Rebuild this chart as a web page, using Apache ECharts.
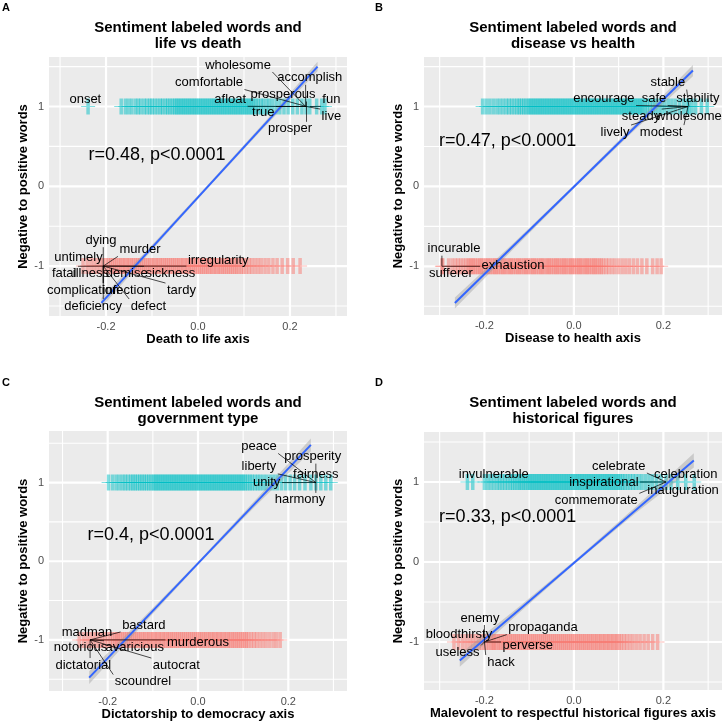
<!DOCTYPE html>
<html>
<head>
<meta charset="utf-8">
<script src="https://cdn.jsdelivr.net/npm/echarts@6/dist/echarts.min.js"></script>
<style>html,body{margin:0;padding:0;background:#fff}#c{width:722px;height:723px}</style>
</head>
<body>
<div id="c"></div>
<script>
// ---------------- DATA ----------------
const xMajor = [-0.2, 0, 0.2];
const xMinor = [-0.3, -0.1, 0.1, 0.3];
const yMajor = [-1, 0, 1];
const yMinor = [-1.5, -0.5, 0.5, 1.5];

// Panel A: life vs death
const A_pos = [-0.239,-0.167,-0.158,-0.151,-0.144,-0.136,-0.13,-0.124,-0.117,-0.111,-0.105,-0.1,
 -0.094,-0.088,-0.082,-0.077,-0.071,-0.066,-0.061,-0.056,-0.051,-0.047,-0.043,
 -0.039,-0.035,-0.031,-0.027,-0.023,-0.019,-0.015,-0.011,-0.007,-0.003,0.001,0.005,0.009,0.013,0.017,0.021,0.025,0.029,0.033,0.037,0.041,0.045,0.049,0.053,0.057,0.061,0.065,0.069,0.073,0.077,0.081,0.085,0.089,0.093,0.097,0.101,0.105,0.109,0.113,0.117,0.121,
 0.126,0.131,0.137,0.142,0.149,0.155,0.162,0.17,0.178,0.187,0.196,0.206,0.216,0.226,0.235,0.243,0.258,0.269,0.276];
const A_neg = [-0.25,-0.241,-0.233,-0.226,-0.219,-0.212,-0.206,-0.2,-0.195,
 -0.19,-0.186,-0.181,-0.177,-0.172,-0.168,-0.163,-0.159,-0.154,-0.15,-0.145,-0.141,-0.136,-0.132,-0.127,-0.123,-0.118,-0.114,-0.109,-0.105,-0.1,-0.096,-0.091,-0.087,-0.082,-0.078,-0.073,-0.069,-0.064,-0.06,-0.055,-0.051,-0.046,-0.042,-0.037,-0.033,-0.028,-0.024,-0.019,-0.015,-0.01,-0.006,-0.001,0.003,0.008,0.012,0.017,0.021,0.026,0.03,0.035,0.039,0.044,0.048,0.053,0.057,0.062,0.066,0.071,0.075,0.08,0.084,0.089,
 0.094,0.099,0.105,0.111,0.117,0.124,0.131,0.138,0.146,0.154,0.163,0.172,0.183,0.195,0.207,0.222];
const A_lineX = [-0.21, 0.26];
const A_lineY = [-1.46, 1.5];
const A_bandX = [-0.21, -0.0925, 0.025, 0.1425, 0.26];
const A_bandHi = [-1.40, -0.69, 0.04, 0.79, 1.56];
const A_bandLo = [-1.52, -0.75, 0.0, 0.73, 1.44];
const A_words = ['wholesome','accomplish','comfortable','prosperous','afloat','fun','true','live','prosper','onset',
 'dying','murder','untimely','irregularity','fatal','illness','demise','sickness','complication','infection','tardy','deficiency','defect'];
const A_wordX = [0.087,0.243,0.024,0.185,0.07,0.29,0.142,0.29,0.2,-0.245,
 -0.211,-0.126,-0.26,0.044,-0.291,-0.233,-0.155,-0.06,-0.25,-0.155,-0.036,-0.228,-0.108];
const A_wordY = [1.52,1.36,1.30,1.15,1.09,1.09,0.93,0.88,0.72,1.09,
 -0.675,-0.79,-0.89,-0.93,-1.09,-1.09,-1.09,-1.09,-1.3,-1.3,-1.3,-1.5,-1.5];
const A_anchorX = [0.234,0.234,0.236,0.236,0.236,0.243,0.236,0.236,0.236,-0.239,
 -0.206,-0.206,-0.206,-0.206,-0.206,-0.206,-0.206,-0.206,-0.206,-0.206,-0.206,-0.206,-0.206];
const A_anchorY = [1,1,1,1,1,1,1,1,1,1,-1,-1,-1,-1,-1,-1,-1,-1,-1,-1,-1,-1,-1];
const A_r = 'r=0.48, p<0.0001';
const A_rX = -0.089, A_rY = 0.39;

// Panel B: disease vs health
const B_pos = [-0.204,-0.196,-0.188,-0.18,-0.172,-0.165,-0.158,-0.151,-0.145,-0.139,-0.133,
 -0.127,-0.122,-0.117,-0.112,-0.107,-0.102,-0.098,-0.094,
 -0.09,-0.086,-0.082,-0.078,-0.074,-0.07,-0.066,-0.062,-0.058,-0.054,-0.05,-0.046,-0.042,-0.038,-0.034,-0.03,-0.026,-0.022,-0.018,-0.014,-0.01,-0.006,-0.002,0.002,0.006,0.01,0.014,0.018,0.022,0.026,0.03,0.034,0.038,0.042,0.046,0.05,0.054,0.058,0.062,0.066,0.07,0.074,0.078,0.082,0.086,0.09,0.094,0.098,0.102,0.106,0.11,0.114,0.118,0.122,0.126,0.13,0.134,0.138,0.142,0.146,0.15,0.154,
 0.159,0.164,0.17,0.176,0.182,0.189,0.196,0.203,0.211,0.219,0.227,0.236,0.245,0.253,0.257,0.264,0.272,0.285,0.298];
const B_neg = [-0.295,-0.293,-0.28,-0.272,-0.265,-0.259,-0.253,-0.247,-0.241,-0.236,-0.232,
 -0.228,-0.224,-0.22,-0.215,-0.211,-0.207,-0.203,-0.198,-0.194,-0.19,-0.186,-0.181,-0.177,-0.173,-0.169,-0.164,-0.16,-0.156,-0.152,-0.147,-0.143,-0.139,-0.135,-0.13,-0.126,-0.122,-0.118,-0.113,-0.109,-0.105,-0.101,-0.096,-0.092,-0.088,-0.084,-0.079,-0.075,-0.071,-0.067,-0.062,-0.058,-0.054,-0.05,-0.045,-0.041,-0.037,-0.033,-0.028,-0.024,-0.02,-0.016,-0.011,-0.007,-0.003,0.001,0.006,0.01,0.014,0.018,0.023,0.027,0.031,0.035,0.04,0.044,0.048,0.052,0.057,0.061,
 0.066,0.072,0.078,0.085,0.092,0.1,0.108,0.116,0.124,0.133,0.142,0.152,0.163,0.176,0.186,0.195];
const B_lineX = [-0.266, 0.266];
const B_lineY = [-1.46, 1.45];
const B_bandX = [-0.266, -0.133, 0, 0.133, 0.266];
const B_bandHi = [-1.39, -0.70, 0.015, 0.76, 1.52];
const B_bandLo = [-1.53, -0.77, -0.025, 0.69, 1.38];
const B_words = ['stable','encourage','safe','stability','steady','wholesome','lively','modest','incurable','sufferer','exhaustion'];
const B_wordX = [0.21,0.067,0.179,0.277,0.15,0.257,0.092,0.195,-0.268,-0.275,-0.136];
const B_wordY = [1.3,1.1,1.1,1.1,0.88,0.88,0.68,0.68,-0.78,-1.09,-0.99];
const B_anchorX = [0.257,0.255,0.255,0.255,0.255,0.255,0.255,0.255,-0.295,-0.295,-0.295];
const B_anchorY = [1,1,1,1,1,1,1,1,-1,-1,-1];
const B_r = 'r=0.47, p<0.0001';
const B_rX = -0.148, B_rY = 0.57;

// Panel C: government type
const C_pos = [-0.198,-0.189,-0.181,-0.174,-0.167,-0.161,-0.155,-0.149,-0.144,
 -0.139,-0.134,-0.129,-0.124,-0.119,-0.114,-0.109,-0.104,-0.099,-0.095,
 -0.091,-0.087,-0.083,-0.079,-0.075,-0.071,-0.067,-0.063,-0.059,-0.055,-0.051,-0.047,-0.043,-0.039,-0.035,-0.031,-0.027,-0.023,-0.019,-0.015,-0.011,-0.007,-0.003,0.001,0.005,0.009,0.013,0.017,0.021,0.025,0.029,0.033,0.037,0.041,0.045,0.049,0.053,0.057,0.061,0.065,0.069,0.073,0.077,0.081,0.085,0.089,0.093,0.097,0.101,0.105,
 0.11,0.115,0.12,0.126,0.132,0.138,0.145,0.152,0.16,0.168,0.176,0.185,0.194,0.204,0.214,0.225,0.237,0.25,0.261,0.272,0.283,0.294];
const C_neg = [-0.263,-0.254,-0.246,-0.239,-0.232,-0.225,-0.218,-0.212,-0.206,-0.2,-0.194,-0.189,-0.184,-0.18,
 -0.176,-0.172,-0.167,-0.163,-0.158,-0.154,-0.149,-0.145,-0.14,-0.136,-0.131,-0.127,-0.122,-0.118,-0.113,-0.109,-0.104,-0.1,-0.095,-0.091,-0.086,-0.082,-0.077,-0.073,-0.068,-0.064,-0.059,-0.055,-0.05,-0.046,-0.041,-0.037,-0.032,-0.028,-0.023,-0.019,-0.014,-0.01,-0.005,-0.001,0.004,0.008,0.013,0.017,0.022,0.026,0.031,0.035,0.04,0.044,0.049,0.053,0.058,0.062,0.067,0.071,0.076,0.08,0.085,0.089,0.094,0.098,0.103,0.107,
 0.112,0.118,0.124,0.13,0.137,0.144,0.151,0.159,0.167,0.174,0.182];
const C_lineX = [-0.241, 0.25];
const C_lineY = [-1.48, 1.48];
const C_bandX = [-0.241, -0.118, 0.0045, 0.127, 0.25];
const C_bandHi = [-1.40, -0.70, 0.02, 0.78, 1.56];
const C_bandLo = [-1.56, -0.78, -0.02, 0.70, 1.40];
const C_words = ['peace','prosperity','liberty','fairness','unity','harmony',
 'madman','bastard','murderous','notorious','avaricious','dictatorial','autocrat','scoundrel'];
const C_wordX = [0.135,0.254,0.135,0.261,0.152,0.226,-0.246,-0.12,0.0,-0.26,-0.14,-0.254,-0.048,-0.122];
const C_wordY = [1.46,1.33,1.2,1.11,1.0,0.78,-0.9,-0.81,-1.03,-1.1,-1.1,-1.32,-1.32,-1.53];
const C_anchorX = [0.261,0.261,0.261,0.261,0.261,0.261,-0.239,-0.239,-0.239,-0.239,-0.239,-0.239,-0.239,-0.239];
const C_anchorY = [1,1,1,1,1,1,-1,-1,-1,-1,-1,-1,-1,-1];
const C_r = 'r=0.4, p<0.0001';
const C_rX = -0.104, C_rY = 0.33;

// Panel D: historical figures
const D_pos = [-0.238,-0.226,-0.2,-0.193,-0.186,-0.179,-0.172,-0.166,-0.16,-0.154,-0.148,-0.142,-0.137,-0.132,
 -0.127,-0.122,-0.118,-0.113,-0.109,
 -0.104,-0.1,-0.096,-0.092,-0.088,-0.084,-0.08,-0.076,-0.072,-0.068,-0.064,-0.06,-0.056,-0.052,-0.048,-0.044,-0.04,-0.036,-0.032,-0.028,-0.024,-0.02,-0.016,-0.012,-0.008,-0.004,0,0.004,0.008,0.012,0.016,0.02,0.024,0.028,0.032,0.036,0.04,0.044,0.048,0.052,0.056,0.06,0.064,0.068,0.072,0.076,0.08,0.084,0.088,0.092,0.096,0.1,0.104,
 0.109,0.114,0.12,0.126,0.132,0.138,0.145,0.152,0.16,0.168,0.176,0.185,0.195,0.206,0.217,0.232,0.25,0.269];
const D_neg = [-0.268,-0.258,-0.249,-0.241,-0.233,-0.226,-0.219,-0.212,-0.206,-0.2,-0.195,-0.19,-0.185,-0.181,
 -0.178,-0.174,-0.169,-0.165,-0.16,-0.156,-0.151,-0.147,-0.142,-0.138,-0.133,-0.129,-0.124,-0.12,-0.115,-0.111,-0.106,-0.102,-0.097,-0.093,-0.088,-0.084,-0.079,-0.075,-0.07,-0.066,-0.061,-0.057,-0.052,-0.048,-0.043,-0.039,-0.034,-0.03,-0.025,-0.021,-0.016,-0.012,-0.007,-0.003,0.002,0.006,0.011,0.015,0.02,0.024,0.029,0.033,0.038,0.042,0.047,0.051,0.056,0.06,0.065,0.069,0.074,0.078,0.083,0.087,0.092,0.096,
 0.101,0.106,0.112,0.118,0.125,0.132,0.14,0.148,0.157,0.166,0.176,0.187];
const D_lineX = [-0.255, 0.268];
const D_lineY = [-1.23, 1.27];
const D_bandX = [-0.255, -0.124, 0.0065, 0.137, 0.268];
const D_bandHi = [-1.15, -0.565, 0.04, 0.685, 1.36];
const D_bandLo = [-1.31, -0.645, 0.0, 0.605, 1.18];
const D_words = ['celebrate','invulnerable','celebration','inspirational','inauguration','commemorate',
 'enemy','propaganda','bloodthirsty','perverse','useless','hack'];
const D_wordX = [0.1,-0.179,0.25,0.067,0.244,0.05,-0.21,-0.069,-0.257,-0.103,-0.26,-0.163];
const D_wordY = [1.2,1.1,1.1,0.99,0.89,0.77,-0.7,-0.82,-0.91,-1.04,-1.13,-1.25];
const D_anchorX = [0.206,-0.19,0.206,0.206,0.206,0.206,-0.2,-0.2,-0.2,-0.2,-0.2,-0.2];
const D_anchorY = [1,1,1,1,1,1,-1,-1,-1,-1,-1,-1];
const D_r = 'r=0.33, p<0.0001';
const D_rX = -0.148, D_rY = 0.56;

// ---------------- LAYOUT / STYLE ----------------
const FONT = '"Liberation Sans", Arial, Helvetica, sans-serif';
const PLUS = 'path://M6,0H10V7.5H16V8.5H10V16H6V8.5H0V7.5H6Z';
const mctx = document.createElement('canvas').getContext('2d');
function textW(t, font) { mctx.font = font; return mctx.measureText(t).width; }

const panels = [
  { letter:'A', grid:{left:49, top:57, width:298, height:259}, xr:[-0.324,0.324], yr:[-1.625,1.62],
    title:'Sentiment labeled words and\nlife vs death', titleY:20, letterY:2, xName:'Death to life axis',
    pos:A_pos, neg:A_neg, lx:A_lineX, ly:A_lineY, bx:A_bandX, bh:A_bandHi, bl:A_bandLo,
    words:A_words, wx:A_wordX, wy:A_wordY, ax:A_anchorX, ay:A_anchorY, r:A_r, rx:A_rX, ry:A_rY },
  { letter:'B', grid:{left:424, top:57, width:298, height:258}, xr:[-0.335,0.331], yr:[-1.61,1.62],
    title:'Sentiment labeled words and\ndisease vs health', titleY:20, letterY:2, xName:'Disease to health axis',
    pos:B_pos, neg:B_neg, lx:B_lineX, ly:B_lineY, bx:B_bandX, bh:B_bandHi, bl:B_bandLo,
    words:B_words, wx:B_wordX, wy:B_wordY, ax:B_anchorX, ay:B_anchorY, r:B_r, rx:B_rX, ry:B_rY },
  { letter:'C', grid:{left:49, top:431, width:298, height:260}, xr:[-0.33,0.33], yr:[-1.65,1.656],
    title:'Sentiment labeled words and\ngovernment type', titleY:395, letterY:377, xName:'Dictatorship to democracy axis',
    pos:C_pos, neg:C_neg, lx:C_lineX, ly:C_lineY, bx:C_bandX, bh:C_bandHi, bl:C_bandLo,
    words:C_words, wx:C_wordX, wy:C_wordY, ax:C_anchorX, ay:C_anchorY, r:C_r, rx:C_rX, ry:C_rY },
  { letter:'D', grid:{left:424, top:432, width:298, height:258}, xr:[-0.335,0.331], yr:[-1.6,1.625],
    title:'Sentiment labeled words and\nhistorical figures', titleY:395, letterY:377, xName:'Malevolent to respectful historical figures axis',
    pos:D_pos, neg:D_neg, lx:D_lineX, ly:D_lineY, bx:D_bandX, bh:D_bandHi, bl:D_bandLo,
    words:D_words, wx:D_wordX, wy:D_wordY, ax:D_anchorX, ay:D_anchorY, r:D_r, rx:D_rX, ry:D_rY }
];

const grids = [], xAxes = [], yAxes = [], series = [], graphics = [];

panels.forEach((p, i) => {
  grids.push(Object.assign({ show:false }, p.grid));
  xAxes.push({
    gridIndex:i, type:'value', min:p.xr[0], max:p.xr[1],
    axisLine:{show:false},
    axisTick:{show:true, customValues:xMajor, length:3, lineStyle:{color:'#333333', width:1}},
    axisLabel:{customValues:xMajor, color:'#4D4D4D', fontSize:11, fontFamily:FONT, margin:5,
      formatter: v => (Math.abs(v) < 1e-9 ? 0 : v).toFixed(1)},
    splitLine:{show:false},
    name:p.xName, nameLocation:'middle', nameGap:17,
    nameTextStyle:{fontFamily:FONT, fontWeight:'bold', fontSize:13, color:'#000', verticalAlign:'top'}
  });
  yAxes.push({
    gridIndex:i, type:'value', min:p.yr[0], max:p.yr[1],
    axisLine:{show:false},
    axisTick:{show:true, customValues:yMajor, length:3, lineStyle:{color:'#333333', width:1}},
    axisLabel:{customValues:yMajor, color:'#4D4D4D', fontSize:11, fontFamily:FONT, margin:5,
      formatter: v => String(Math.round(v))},
    splitLine:{show:false},
    name:'Negative to positive words', nameLocation:'middle', nameGap:18, nameRotate:90,
    nameTextStyle:{fontFamily:FONT, fontWeight:'bold', fontSize:13, color:'#000'}
  });

  // panel background + white gridlines (filled thin rectangles), through the axes
  const gl = [];
  xMinor.forEach(v => gl.push([v, 0, 0, 0]));
  yMinor.forEach(v => gl.push([0, v, 1, 0]));
  xMajor.forEach(v => gl.push([v, 0, 0, 1]));
  yMajor.forEach(v => gl.push([0, v, 1, 1]));
  series.push({
    type:'custom', xAxisIndex:i, yAxisIndex:i, silent:true, z:1, animation:false,
    data:[[p.xr[0], p.yr[0]]],
    renderItem:(params, api) => {
      const a = api.coord([p.xr[0], p.yr[1]]), b = api.coord([p.xr[1], p.yr[0]]);
      const children = [{type:'rect', shape:{x:a[0], y:a[1], width:b[0]-a[0], height:b[1]-a[1]}, style:{fill:'#EBEBEB'}}];
      gl.forEach(g => {
        const w = g[3] ? 2.2 : 1.1;
        if (g[2] === 0) {
          const x = api.coord([g[0], p.yr[0]])[0];
          children.push({type:'rect', shape:{x:x - w/2, y:a[1], width:w, height:b[1]-a[1]}, style:{fill:'#FFFFFF'}});
        } else {
          const y = api.coord([p.xr[0], g[1]])[1];
          children.push({type:'rect', shape:{x:a[0], y:y - w/2, width:b[0]-a[0], height:w}, style:{fill:'#FFFFFF'}});
        }
      });
      return {type:'group', children};
    }
  });

  // points
  series.push({ type:'scatter', xAxisIndex:i, yAxisIndex:i, silent:true, z:3, animation:false,
    data:p.neg.map(x => [x, -1]), symbol:PLUS, symbolSize:[14,16], itemStyle:{color:'rgba(248,118,109,0.62)'} });
  series.push({ type:'scatter', xAxisIndex:i, yAxisIndex:i, silent:true, z:3, animation:false,
    data:p.pos.map(x => [x, 1]), symbol:PLUS, symbolSize:[14,16], itemStyle:{color:'rgba(0,191,196,0.62)'} });

  // confidence band
  series.push({ type:'custom', xAxisIndex:i, yAxisIndex:i, silent:true, z:4, animation:false, data:[[p.bx[0], p.bh[0]]],
    renderItem:(params, api) => {
      const pts = [];
      p.bx.forEach((x, k) => pts.push(api.coord([x, p.bh[k]])));
      for (let k = p.bx.length - 1; k >= 0; k--) pts.push(api.coord([p.bx[k], p.bl[k]]));
      return {type:'polygon', shape:{points:pts}, style:{fill:'rgba(153,153,153,0.4)'}};
    }
  });

  // regression line
  series.push({ type:'line', xAxisIndex:i, yAxisIndex:i, silent:true, z:5, animation:false,
    data:p.lx.map((x, k) => [x, p.ly[k]]), showSymbol:false, symbol:'none',
    lineStyle:{color:'#3366FF', width:2} });

  // word labels with leader segments
  const LF = '13px ' + FONT;
  series.push({ type:'custom', xAxisIndex:i, yAxisIndex:i, silent:true, z:6, animation:false,
    data:p.words.map((w, k) => [p.wx[k], p.wy[k], p.ax[k], p.ay[k]]),
    renderItem:(params, api) => {
      const L = api.coord([api.value(0), api.value(1)]);
      const P = api.coord([api.value(2), api.value(3)]);
      const t = p.words[params.dataIndex];
      const hw = textW(t, LF) / 2 + 1.5, hh = 7;
      const cx = Math.min(Math.max(P[0], L[0]-hw), L[0]+hw);
      const cy = Math.min(Math.max(P[1], L[1]-hh), L[1]+hh);
      const len = Math.hypot(P[0]-cx, P[1]-cy);
      const children = [];
      if (len > 4) children.push({type:'line', shape:{x1:P[0], y1:P[1], x2:cx, y2:cy}, style:{stroke:'#000', lineWidth:0.7}});
      children.push({type:'text', x:L[0], y:L[1], style:{text:t, font:LF, fill:'#000', align:'center', verticalAlign:'middle'}});
      return {type:'group', children};
    }
  });

  // correlation annotation
  series.push({ type:'custom', xAxisIndex:i, yAxisIndex:i, silent:true, z:6, animation:false,
    data:[[p.rx, p.ry]],
    renderItem:(params, api) => {
      const c = api.coord([api.value(0), api.value(1)]);
      return {type:'text', x:c[0], y:c[1], style:{text:p.r, font:'18px ' + FONT, fill:'#000', align:'center', verticalAlign:'middle'}};
    }
  });

  // title + panel letter
  graphics.push({ type:'text', x:p.grid.left + p.grid.width/2, y:p.titleY, silent:true,
    style:{text:p.title, font:'bold 15px ' + FONT, fill:'#000', align:'center', verticalAlign:'top', lineHeight:16} });
  graphics.push({ type:'text', x:(i % 2 === 0 ? 2 : 375), y:p.letterY, silent:true,
    style:{text:p.letter, font:'bold 11px ' + FONT, fill:'#000', align:'left', verticalAlign:'top'} });
});

const chart = echarts.init(document.getElementById('c'), null, {renderer:'canvas'});
chart.setOption({
  backgroundColor:'#FFFFFF',
  animation:false,
  grid:grids, xAxis:xAxes, yAxis:yAxes, series:series, graphic:graphics
});
</script>
</body>
</html>
